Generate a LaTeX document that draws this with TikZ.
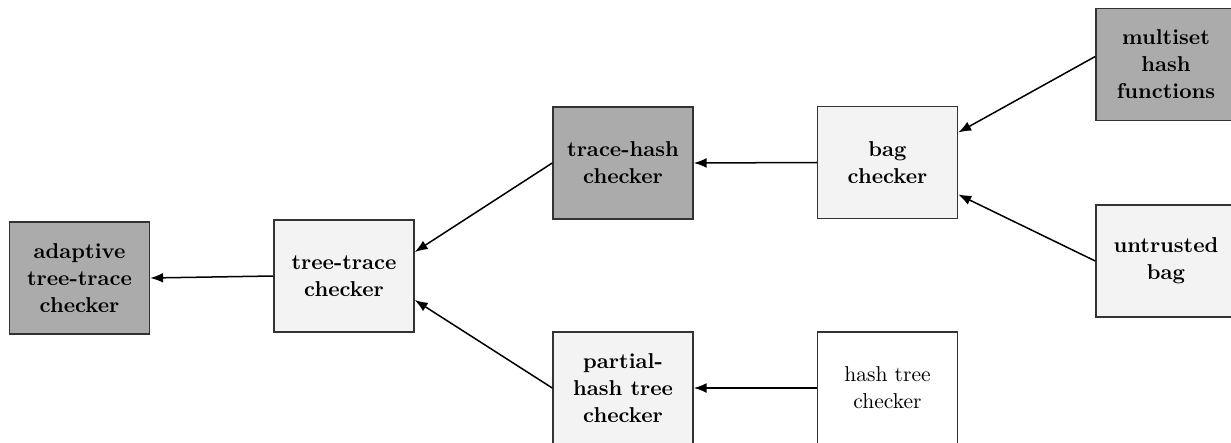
\documentclass[tikz,border=0pt]{standalone}
\usetikzlibrary{arrows.meta,calc}
\definecolor{darkbox}{HTML}{ABABAB}
\definecolor{lightbox}{HTML}{F3F3F3}
\definecolor{edgegray}{HTML}{333333}
\tikzset{
  box/.style={draw=edgegray, line width=0.7pt, minimum width=65.1pt, minimum height=52.1pt,
    align=center, inner sep=0pt, font=\fontsize{10}{12.6}\selectfont\bfseries},
  darkbox/.style={box, fill=darkbox},
  lightbox/.style={box, fill=lightbox},
  plainbox/.style={box, fill=white, font=\fontsize{10}{12.6}\selectfont\mdseries},
  link/.style={draw=black, line width=0.7pt, -{Latex[length=6pt,width=4.6pt]}}
}
\begin{document}
\begin{tikzpicture}[x=0.465pt, y=-0.465pt]
  \useasboundingbox (0,0) rectangle (1231,442);
  \clip (0,0) rectangle (1231,442);
  % nodes of the checker hierarchy
  \node[darkbox]  (adaptive)  at (79.5,278)  {adaptive\\tree-trace\\checker};
  \node[lightbox] (treetrace) at (344,276)   {tree-trace\\checker};
  \node[darkbox]  (tracehash) at (623,163)   {trace-hash\\checker};
  \node[lightbox] (bag)       at (887.5,162.5) {bag\\checker};
  \node[lightbox] (partial)   at (623,388)   {partial-\\hash tree\\checker};
  \node[plainbox] (hashtree)  at (887.5,388) {hash tree\\checker};
  \node[darkbox]  (multiset)  at (1166,64.5) {multiset\\hash\\functions};
  \node[lightbox] (untrusted) at (1166,261)  {untrusted\\bag};
  % dependencies
  \draw[link] (treetrace.west) -- (adaptive.east);
  \draw[link] (tracehash.west) -- ($(treetrace.east)+(0,-24)$);
  \draw[link] (partial.west) -- ($(treetrace.east)+(0,24)$);
  \draw[link] (bag.west) -- (tracehash.east);
  \draw[link] (hashtree.west) -- (partial.east);
  \draw[link] ($(multiset.west)+(0,-8)$) -- ($(bag.east)+(0,-30)$);
  \draw[link] (untrusted.west) -- ($(bag.east)+(0,32)$);
\end{tikzpicture}
\end{document}
